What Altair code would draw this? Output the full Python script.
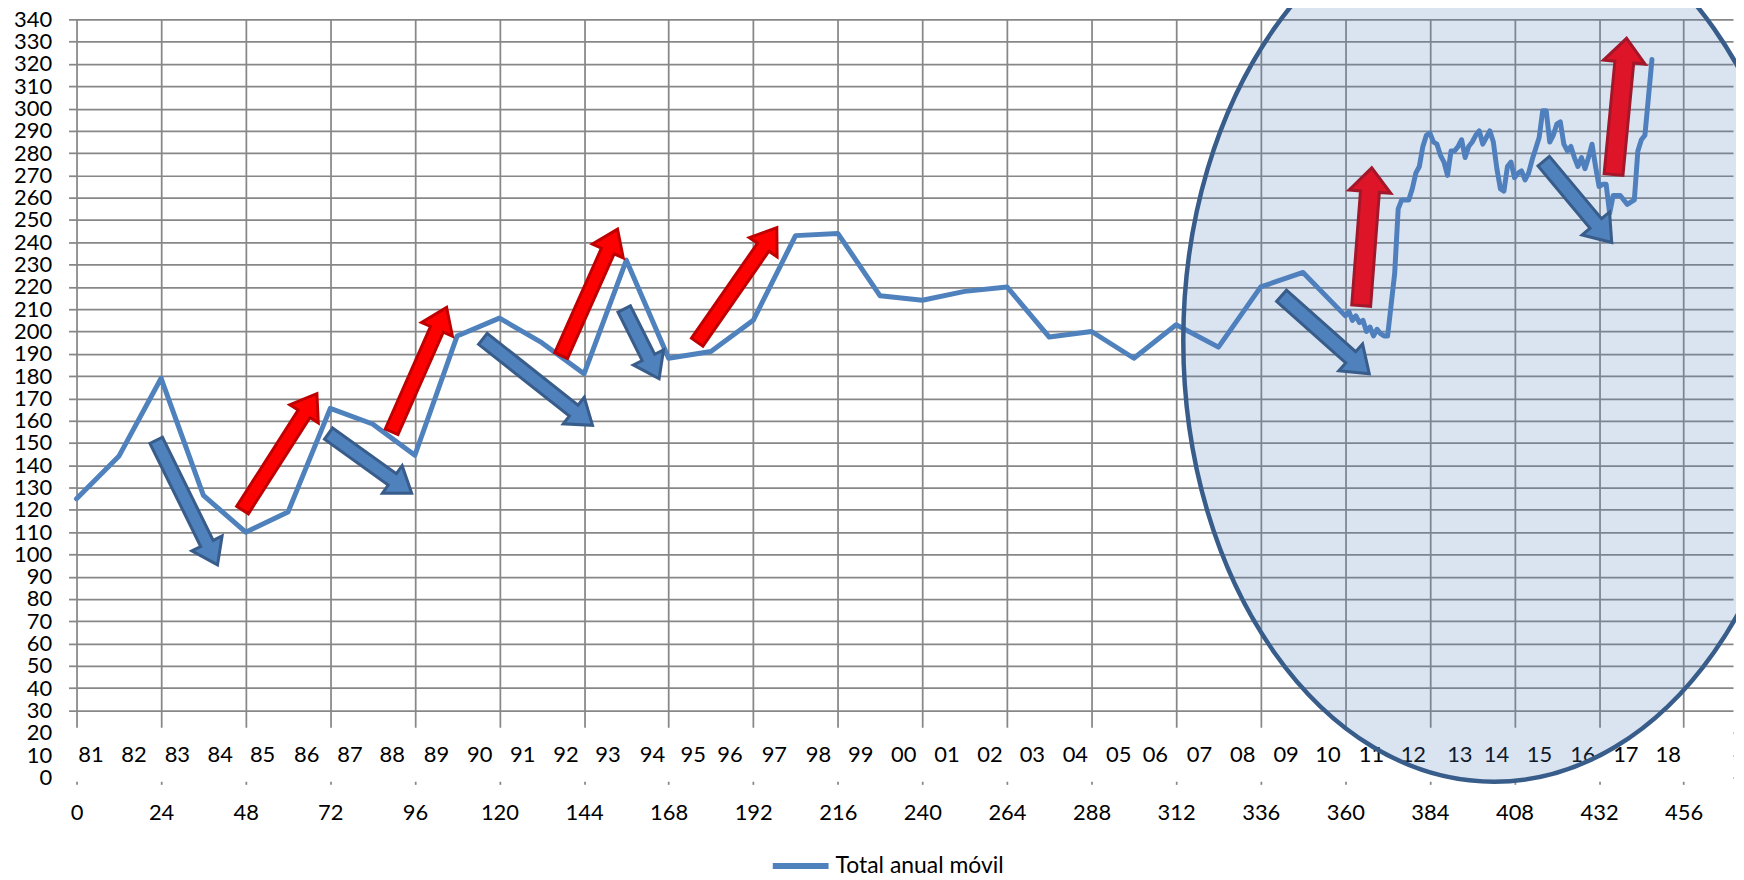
import math
import altair as alt
import pandas as pd

# ---------------- data ----------------
series_name = "Total anual móvil"

# one point per year (x = months since start)
annual_x = list(range(0, 360, 12))
annual_values = [125, 144, 179, 126.5, 110, 119, 165.5, 158.5, 144.5, 198,
                 206, 195, 181, 232, 188, 191, 205, 243, 244, 216,
                 214, 218, 220, 197.5, 200, 188, 203, 193, 220, 226.5]

# monthly points from 2011 on
monthly_x = list(range(360, 448))
monthly_values = [207, 209, 205, 207, 204, 205, 200, 202, 198, 201, 199, 198,
                  198, 212, 226, 255, 259, 259, 259, 264, 271, 274, 283, 288,
                  289, 285, 284, 279, 276, 270, 281, 281, 283, 286, 278, 283,
                  285, 288, 290, 284, 287, 290, 285, 273, 264, 263, 274, 276,
                  269, 271, 272, 268, 271, 277, 282, 287, 299, 299, 285, 288,
                  293, 294, 284, 281, 283, 278, 274, 278, 273, 278, 284, 274,
                  265, 266, 266, 253, 261, 261, 261, 259, 257, 258, 259, 281,
                  286, 288, 305, 322]

year_labels = ["81", "82", "83", "84", "85", "86", "87", "88", "89", "90",
               "91", "92", "93", "94", "95", "96", "97", "98", "99", "00",
               "01", "02", "03", "04", "05", "06", "07", "08", "09", "10",
               "11", "12", "13", "14", "15", "16", "17", "18"]
year_label_x = [4.1, 16.3, 28.6, 40.8, 52.8, 65.3, 77.6, 89.6, 102.1, 114.4,
                126.6, 138.9, 150.8, 163.4, 175.0, 185.4, 198.0, 210.5, 222.5, 234.7,
                247.0, 259.2, 271.2, 283.4, 295.7, 306.1, 318.6, 330.9, 343.2, 355.1,
                367.4, 379.3, 392.5, 402.9, 415.1, 427.4, 439.6, 451.6]
year_label_value = 10

x_tick_values = list(range(0, 457, 24))
y_tick_values = list(range(0, 341, 10))

# ---------------- annotations (data units) ----------------
ellipse_center_x = 402.2
ellipse_center_y = 196.0

arrow_kind = ["blue", "red", "blue", "red", "blue", "red", "blue", "red",
              "blue2", "red2", "blue2", "red2"]
arrow_tail_x = [22.6, 47.1, 71.5, 89.4, 115.3, 137.5, 155.4, 176.1, 341.9, 364.5, 416.3, 436.1]
arrow_tail_y = [151.2, 119.9, 154.2, 155.0, 196.7, 189.2, 210.1, 195.2, 216.0, 211.6, 276.4, 270.4]
arrow_tip_x = [40.0, 68.2, 95.1, 105.0, 146.4, 153.5, 165.3, 198.7, 366.8, 367.5, 435.6, 439.8]
arrow_tip_y = [95.3, 172.1, 127.4, 210.8, 157.9, 245.9, 178.8, 246.6, 181.0, 273.4, 239.9, 331.5]

# ---------------- layout / style ----------------
W, H = 1663, 761
X_MAX, Y_MAX = 470, 340
PX_X = W / X_MAX
PX_Y = H / Y_MAX
GRID = "#878787"
FONT = "Lato"
LINE_COLOR = "#4F81BD"

ELLIPSE_RX, ELLIPSE_RY = 312, 443
arrow_style = {
    "blue": dict(fill="#4F81BD", stroke="#385D8A", shaft=14, head=34, head_len=24),
    "red": dict(fill="#FF0000", stroke="#C00000", shaft=14, head=34, head_len=24),
    "blue2": dict(fill="#4F81BD", stroke="#385D8A", shaft=15, head=36, head_len=25),
    "red2": dict(fill="#DE1528", stroke="#A3172A", shaft=19, head=42, head_len=24),
}


def ellipse_path(rx, ry):
    k = 0.5523
    return (f"M {rx} 0 C {rx} {k*ry:.2f} {k*rx:.2f} {ry} 0 {ry} "
            f"C {-k*rx:.2f} {ry} {-rx} {k*ry:.2f} {-rx} 0 "
            f"C {-rx} {-k*ry:.2f} {-k*rx:.2f} {-ry} 0 {-ry} "
            f"C {k*rx:.2f} {-ry} {rx} {-k*ry:.2f} {rx} 0 Z")


def arrow_path(length, shaft, head, head_len):
    h = length / 2
    a = shaft / 2
    b = head / 2
    yb = -h + head_len
    return (f"M {-a:.2f} {h:.2f} L {-a:.2f} {yb:.2f} L {-b:.2f} {yb:.2f} "
            f"L 0 {-h:.2f} L {b:.2f} {yb:.2f} L {a:.2f} {yb:.2f} L {a:.2f} {h:.2f} Z")


# ---------------- tables ----------------
line_df = pd.DataFrame({
    "x": annual_x + monthly_x,
    "y": annual_values + monthly_values,
    "serie": series_name,
})
years_df = pd.DataFrame({"x": year_label_x, "y": year_label_value, "label": year_labels})
mask_df = pd.DataFrame({"x0": [-2.5], "x1": [X_MAX], "y0": [-2.0], "y1": [22.3]})
ellipse_df = pd.DataFrame({"cx": [ellipse_center_x], "cy": [ellipse_center_y]})

rows = []
for kind, tx, ty, hx, hy in zip(arrow_kind, arrow_tail_x, arrow_tail_y, arrow_tip_x, arrow_tip_y):
    st = arrow_style[kind]
    dx = (hx - tx) * PX_X
    dy = -(hy - ty) * PX_Y
    length = math.hypot(dx, dy)
    ang = math.degrees(math.atan2(dx, -dy)) % 360
    rows.append({
        "cx": (tx + hx) / 2, "cy": (ty + hy) / 2,
        "path": arrow_path(length, st["shaft"], st["head"], st["head_len"]),
        "angle": ang, "fill": st["fill"], "stroke": st["stroke"],
    })
arrows_df = pd.DataFrame(rows)

# ---------------- scales / axes ----------------
xs = alt.Scale(domain=[0, X_MAX], nice=False, zero=False)
ys = alt.Scale(domain=[0, Y_MAX], nice=False, zero=False)
xaxis = alt.Axis(values=x_tick_values, title=None, domain=False, grid=True,
                 gridColor=GRID, gridWidth=1.75, tickColor=GRID, tickWidth=1.75,
                 tickSize=7, labelFont=FONT, labelFontSize=22, labelColor="black",
                 labelPadding=18, labelFlush=False, labelOverlap=False)
yaxis = alt.Axis(values=y_tick_values, title=None, domain=False, grid=True,
                 gridColor=GRID, gridWidth=1.75, tickColor=GRID, tickWidth=1.75,
                 tickSize=8, labelFont=FONT, labelFontSize=22, labelColor="black",
                 labelPadding=17, labelOverlap=False)

mask = alt.Chart(mask_df).mark_rect(color="white").encode(
    x=alt.X("x0:Q", scale=xs, axis=xaxis), x2="x1:Q",
    y=alt.Y("y0:Q", scale=ys, axis=yaxis), y2="y1:Q",
)

years = alt.Chart(years_df).mark_text(font=FONT, fontSize=22, color="black",
                                      align="center", baseline="middle").encode(
    x=alt.X("x:Q", scale=xs, axis=xaxis),
    y=alt.Y("y:Q", scale=ys, axis=yaxis),
    text="label:N",
)

line = alt.Chart(line_df).mark_line(strokeWidth=5, strokeJoin="round", strokeCap="round").encode(
    x=alt.X("x:Q", scale=xs, axis=xaxis),
    y=alt.Y("y:Q", scale=ys, axis=yaxis),
    color=alt.Color("serie:N",
                    scale=alt.Scale(domain=[series_name], range=[LINE_COLOR]),
                    legend=alt.Legend(orient="none", legendX=696, legendY=819,
                                      title=None, symbolType="stroke",
                                      symbolSize=3136, symbolStrokeWidth=6,
                                      labelFont=FONT, labelFontSize=23, labelLimit=600,
                                      labelColor="black", labelOffset=4, padding=0)),
)

ellipse = alt.Chart(ellipse_df).mark_point(
    shape=ellipse_path(ELLIPSE_RX, ELLIPSE_RY), size=4, filled=True,
    fill="#4F81BD", fillOpacity=0.21, stroke="#385D8A", strokeWidth=4.5, opacity=1,
).encode(
    x=alt.X("cx:Q", scale=xs, axis=xaxis),
    y=alt.Y("cy:Q", scale=ys, axis=yaxis),
)

arrows = alt.Chart(arrows_df).mark_point(size=4, filled=True, opacity=1,
                                         strokeWidth=3, strokeJoin="miter").encode(
    x=alt.X("cx:Q", scale=xs, axis=xaxis),
    y=alt.Y("cy:Q", scale=ys, axis=yaxis),
    shape=alt.Shape("path:N", scale=None),
    angle=alt.Angle("angle:Q", scale=None),
    fill=alt.Fill("fill:N", scale=None),
    stroke=alt.Stroke("stroke:N", scale=None),
)

chart = alt.layer(mask, years, line, ellipse, arrows).properties(
    width=W, height=H,
    autosize=alt.AutoSizeParams(type="none"),
    padding={"left": 68.8, "top": 9.7, "right": 3, "bottom": 101},
    background="white",
).configure_view(strokeWidth=0)

chart.save("out.html", embed_options={"renderer": "svg", "actions": False})
